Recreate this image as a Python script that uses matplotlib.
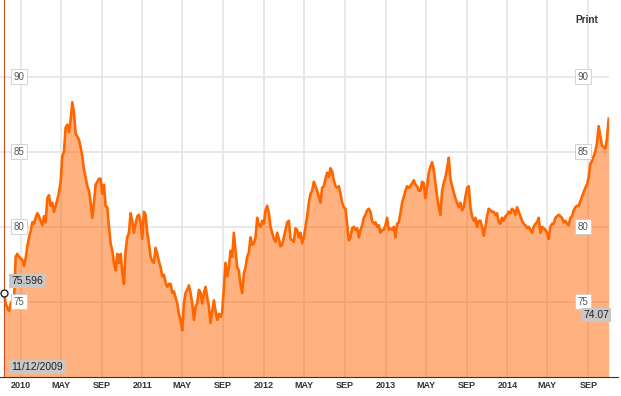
import matplotlib
matplotlib.use('Agg')
import matplotlib.pyplot as plt
import matplotlib.transforms as mtransforms
from matplotlib.lines import Line2D
import pandas as pd

plt.rcParams['font.family'] = ['Liberation Sans', 'DejaVu Sans']

# one value every 5 days from 11/12/2009
start_date = '2009-11-12'
step = '5D'

# nov 2009 -> aug 2010
prices_1 = [75.6, 74.9, 74.6, 74.4, 74.9, 75.1, 75.0, 78.0, 78.2, 78.0,
            77.9, 77.8, 77.4, 77.9, 78.7, 79.3, 79.7, 80.3, 80.2, 80.6,
            80.9, 80.7, 80.4, 80.1, 80.7, 80.3, 81.9, 82.1, 81.4, 81.6,
            81.0, 81.4, 81.8, 82.3, 83.0, 84.7, 85.0, 86.6, 86.8, 86.3,
            87.1, 88.3, 87.6, 86.2, 86.0, 85.8, 85.3, 84.7, 83.8, 83.3,
            82.7, 82.4, 81.6, 80.6, 81.6, 82.8, 83.0, 83.2]
# sep 2010 -> jun 2011
prices_2 = [83.2, 82.2, 82.8, 81.4, 81.3, 80.0, 78.9, 78.4, 77.6, 77.1,
            78.2, 77.6, 78.2, 77.0, 76.2, 78.4, 79.3, 79.6, 80.9, 80.4,
            79.6, 80.2, 80.7, 80.8, 80.3, 79.2, 81.0, 80.8, 79.6, 78.9,
            78.0, 77.7, 77.6, 78.6, 78.2, 77.7, 77.3, 76.7, 76.8, 76.3,
            76.0, 76.2, 76.2, 75.6, 75.7, 75.3, 74.9, 74.2, 73.8, 73.1,
            74.9, 75.6, 75.8, 76.1, 75.6, 74.9, 73.8, 74.7, 74.9, 75.8]
# jun 2011 -> apr 2012
prices_3 = [75.6, 74.9, 75.6, 76.0, 75.3, 74.7, 73.6, 74.4, 75.1, 74.4,
            73.8, 74.2, 74.0, 74.3, 76.0, 77.6, 76.7, 77.3, 78.4, 78.0,
            79.6, 78.4, 77.3, 77.1, 76.1, 75.6, 76.9, 77.3, 78.0, 78.3,
            79.3, 78.8, 78.9, 79.3, 80.6, 80.1, 80.0, 80.4, 80.2, 81.1,
            81.4, 80.9, 80.0, 79.6, 79.2, 79.0, 79.6, 79.2, 78.7, 78.8,
            79.3, 79.8, 80.3, 80.4, 79.2, 79.1, 79.0, 79.9, 79.8, 79.3]
# apr 2012 -> feb 2013
prices_4 = [79.6, 78.9, 79.3, 80.0, 80.7, 81.6, 82.2, 82.4, 83.0, 82.7,
            82.4, 82.0, 81.6, 82.6, 82.7, 83.2, 83.6, 83.3, 83.9, 83.7,
            83.1, 82.7, 82.6, 82.7, 82.2, 81.6, 81.3, 81.2, 80.2, 79.1,
            79.3, 79.9, 80.0, 79.8, 79.9, 79.3, 79.8, 80.1, 80.6, 80.8,
            81.1, 81.2, 81.0, 80.4, 80.2, 80.3, 80.0, 80.1, 79.6, 79.8,
            79.8, 80.1, 80.6, 79.8, 79.9, 79.8, 80.0, 79.3, 80.2, 80.3]
# feb 2013 -> dec 2013
prices_5 = [80.9, 81.6, 82.0, 82.4, 82.7, 82.6, 82.7, 82.9, 83.1, 82.8,
            82.7, 82.4, 82.4, 83.0, 82.9, 81.9, 82.7, 83.6, 84.0, 84.3,
            83.8, 82.9, 82.0, 81.3, 80.8, 82.4, 82.9, 83.3, 83.9, 84.6,
            83.2, 82.7, 82.3, 81.9, 81.6, 81.3, 81.6, 81.1, 81.3, 82.0,
            82.6, 82.7, 81.3, 80.7, 80.4, 80.6, 80.0, 80.4, 80.4, 80.0,
            79.4, 80.0, 80.7, 81.2, 81.1, 81.0, 81.0, 80.8, 80.9, 80.3]
# dec 2013 -> nov 2014
prices_6 = [80.2, 80.6, 80.4, 80.7, 80.8, 81.0, 80.9, 81.2, 81.1, 80.8,
            81.3, 81.0, 80.7, 80.4, 80.2, 80.1, 79.9, 80.0, 79.8, 79.6,
            80.0, 80.2, 80.3, 80.6, 79.6, 80.0, 79.9, 79.8, 79.6, 79.2,
            80.0, 80.2, 80.2, 80.6, 80.7, 80.8, 80.7, 80.6, 80.3, 80.4,
            80.2, 80.1, 80.6, 80.7, 81.1, 81.3, 81.4, 81.4, 81.7, 82.0,
            82.3, 82.6, 82.8, 83.3, 84.2, 84.4, 84.7, 85.0, 85.6, 86.7,
            86.0, 85.4, 85.3, 85.2, 85.9, 87.2]

prices = prices_1 + prices_2 + prices_3 + prices_4 + prices_5 + prices_6
dates = pd.date_range(start_date, periods=len(prices), freq=step)

tick_dates = ['2010-01-01', '2010-05-01', '2010-09-01',
              '2011-01-01', '2011-05-01', '2011-09-01',
              '2012-01-01', '2012-05-01', '2012-09-01',
              '2013-01-01', '2013-05-01', '2013-09-01',
              '2014-01-01', '2014-05-01', '2014-09-01']
tick_labels = ['2010', 'MAY', 'SEP', '2011', 'MAY', 'SEP', '2012', 'MAY', 'SEP',
               '2013', 'MAY', 'SEP', '2014', 'MAY', 'SEP']
y_ticks = [75, 80, 85, 90]

first_value = 75.596
low_value = 74.07
first_date_label = '11/12/2009'

W, H = 621, 396
fig = plt.figure(figsize=(W / 100, H / 100), dpi=100)
ax = fig.add_axes([0, 19 / H, 609 / W, 1 - 19 / H])

tdates = pd.to_datetime(tick_dates)
for d in tdates:
    ax.axvline(d, color='#e8e8e8', lw=1.4, zorder=0)
for v in y_ticks:
    ax.axhline(v, color='#e8e8e8', lw=1.4, zorder=0)

ax.fill_between(dates, prices, 70, color='#ff6600', alpha=0.5, lw=0, zorder=1)
ax.plot(dates, prices, color='#ff6600', lw=1.9, zorder=2)

# hover crosshair + marker on the first point
ax.axvline(dates[0], color='#cc4f1c', lw=0.8, zorder=3)
ax.plot(dates[0], first_value, 'o', mfc='white', mec='#222222', ms=5, mew=1,
        zorder=4, clip_on=False)

ax.set_xlim(pd.Timestamp('2009-10-31'), pd.Timestamp('2014-11-02'))
ax.set_ylim(70, 95.1)

ax.set_xticks(tdates)
ax.set_xticklabels(tick_labels, fontsize=6.5, fontweight='bold', color='#333333')
ax.tick_params(axis='x', length=0, pad=3)
ax.set_yticks([])
for s in ax.spines.values():
    s.set_visible(False)

trans = mtransforms.blended_transform_factory(ax.transAxes, ax.transData)
for v in y_ticks:
    for xf in (18.7 / 609, 583 / 609):
        ax.text(xf, v, str(v), transform=trans, ha='center', va='center',
                fontsize=7, color='#555555', zorder=5,
                bbox=dict(boxstyle='square,pad=0.25', fc='white', ec='#cccccc', lw=0.6))

grey_box = dict(boxstyle='square,pad=0.2', fc='#c8c8c8', ec='none')
ax.text(11.3 / 609, 76.41, '{:.3f}'.format(first_value), transform=trans, ha='left',
        va='center', fontsize=7.5, color='#222222', bbox=grey_box, zorder=6)
ax.text(1.0, 74.11, '{:.2f}'.format(low_value), transform=trans, ha='right',
        va='center', fontsize=7.5, color='#222222', bbox=grey_box, zorder=6)
ax.text(11.3 / 609, 70.68, first_date_label, transform=trans, ha='left',
        va='center', fontsize=7.5, color='#222222', bbox=grey_box, zorder=6)

fig.add_artist(Line2D([0, 618 / W], [19 / H, 19 / H], color='#333333', lw=0.8))
fig.text(586.5 / W, 1 - 20 / H, 'Print', ha='center', va='center', fontsize=7.3,
         fontweight='bold', color='#333333')

fig.savefig('out.png', dpi=100)
